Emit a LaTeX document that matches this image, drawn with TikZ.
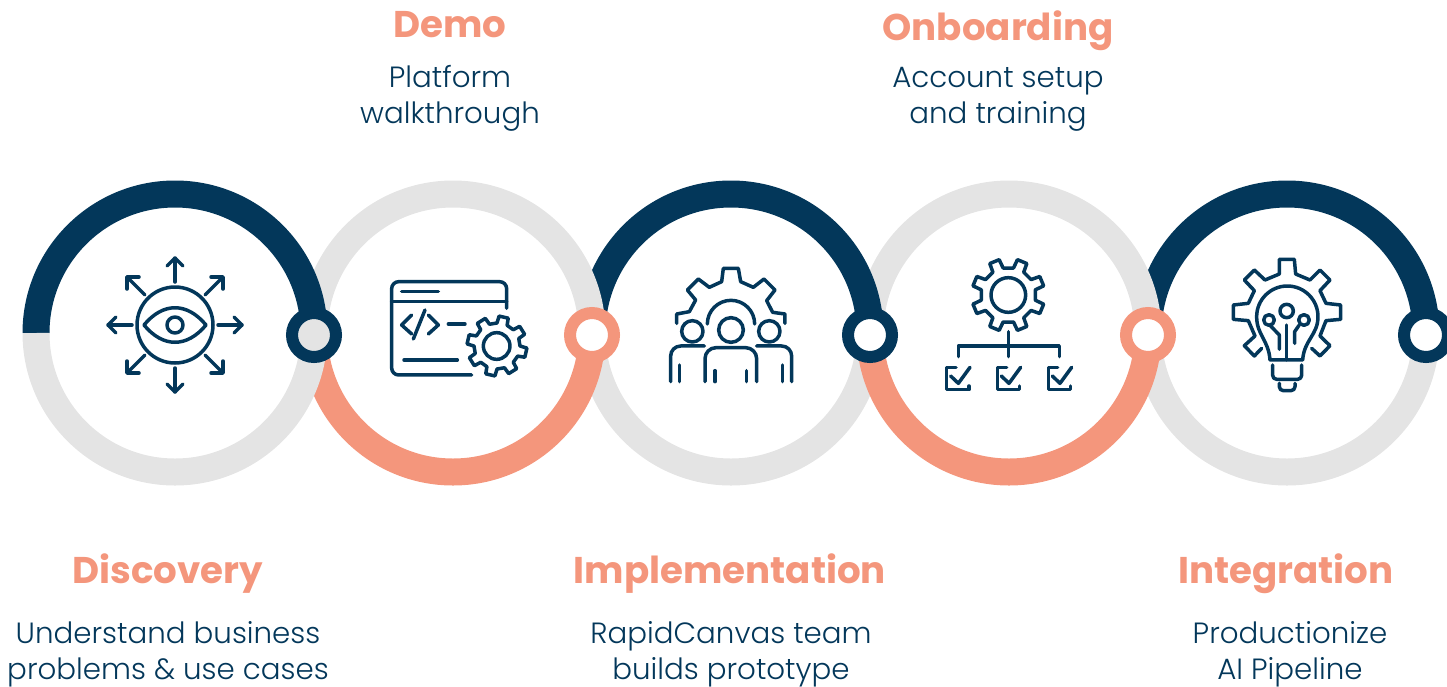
\documentclass[tikz,border=0pt]{standalone}
\usepackage{fontspec}
\setmainfont{Poppins}[UprightFont=* Light,BoldFont=* SemiBold]
\newfontfamily\titlefont{Poppins}[UprightFont=* Bold,BoldFont=* Bold]
\definecolor{navy}{HTML}{03375A}
\definecolor{peach}{HTML}{F4967C}
\definecolor{ringgray}{HTML}{E4E4E4}
\tikzset{
  base ring/.style={draw=ringgray,line width=27pt},
  top arc/.style={draw=navy,line width=27pt},
  low arc/.style={draw=peach,line width=27pt},
  joint/.style={circle,line width=12pt,minimum size=44pt,inner sep=0pt},
  ico/.style={draw=navy,line width=3.5pt,line cap=round,line join=round},
  titletext/.style={font=\titlefont\fontsize{37.2}{42}\selectfont,text=peach,anchor=base},
  bodytext/.style={font=\fontsize{29.3}{36}\selectfont,text=navy,align=center,anchor=center},
}
\newcommand{\gearshape}[7]{%
  \begin{scope}[shift={(#1,#2)}]
    \pgfmathsetmacro{\gstep}{360/#5}
    \pgfmathsetmacro{\gwb}{#7*1.45}
    \draw[ico] (#6-\gwb:#4)
      \foreach \gi in {1,...,#5}{
        \pgfextra{\pgfmathsetmacro{\ga}{#6+(\gi-1)*\gstep}}
        -- (\ga-\gwb:#4) -- (\ga-#7:#3) -- (\ga+#7:#3) -- (\ga+\gwb:#4)
      } -- cycle;
  \end{scope}}
\begin{document}
\begin{tikzpicture}[x=1pt,y=-1pt]
\useasboundingbox (0,0) rectangle (1447,686);
\begin{scope}
\clip (0,0) rectangle (1447,686);
% upper halves, each over its right neighbour
\foreach \cx/\kind in {1287/top arc,1009/base ring,731/top arc,453/base ring,175/top arc}{
  \draw[\kind] (\cx-139,333) arc[start angle=180,end angle=360,radius=139];
}
% lower halves: the peach arcs lie over the gray of circles 3 and 5, under that of circle 1
\foreach \cx/\kind in {1287/base ring,731/base ring,1009/low arc,453/low arc,175/base ring}{
  \draw[\kind] (\cx-139,333) arc[start angle=180,end angle=0,radius=139];
}
% joints
\node[joint,draw=navy,fill=ringgray] (j1) at (314,335) {};
\node[joint,draw=peach,fill=white] (j2) at (592,335) {};
\node[joint,draw=navy,fill=white] (j3) at (870,335) {};
\node[joint,draw=peach,fill=white] (j4) at (1148,335) {};
\node[joint,draw=navy,fill=white] (j5) at (1426,335) {};
\end{scope}
% icon 1
\begin{scope}[shift={(175,325)}]
  \draw[ico] (0,0) circle[radius=38];
  \draw[ico] (0,0) circle[radius=8];
  \draw[ico] (-31,0) .. controls (-12,-23) and (12,-23) .. (31,0) .. controls (12,23) and (-12,23) .. (-31,0) -- cycle;
  \foreach \r in {0,90,180,270}{
    \begin{scope}[rotate=\r]
      \draw[ico] (43,0) -- (67,0);
      \draw[ico] (59,-8) -- (67,0) -- (59,8);
      \draw[ico] (30,-30) -- (48,-48);
      \draw[ico] (36,-48) -- (48,-48) -- (48,-36);
    \end{scope}}
\end{scope}
% icon 2
\begin{scope}[shift={(370,260)},x=0.3333pt,y=-0.3333pt]
  \draw[ico,rounded corners=7pt] (410,145) -- (410,65) -- (65,65) -- (65,345) -- (305,345);
  \draw[ico] (65,125) -- (410,125);
  \draw[ico] (95,95) -- (205,95);
  \draw[ico] (125,165) -- (95,195) -- (125,222);
  \draw[ico] (165,150) -- (130,237);
  \draw[ico] (175,165) -- (205,195) -- (175,222);
  \draw[ico] (235,192) -- (285,192);
  \draw[ico] (102,300) -- (262,300);
  \draw[ico] (380,258) circle[radius=40];
\end{scope}
\gearshape{497}{346}{30}{23}{8}{-77}{9}
% icon 3
\begin{scope}[shift={(650,250)},x=0.3333pt,y=-0.3333pt]
  \draw[ico] (80,220) -- (80,192) -- (118,185) -- (137,150) -- (112,120) -- (145,87) -- (178,112) -- (215,95) -- (220,55) -- (265,55) -- (272,95) -- (310,112) -- (342,87) -- (375,120) -- (350,152) -- (368,187) -- (405,192) -- (405,220);
  \draw[ico] (172,222) arc[start angle=180,end angle=360,radius=71];
  \draw[ico] (127,244) circle[radius=32];
  \draw[ico] (243,240) circle[radius=37];
  \draw[ico] (358,244) circle[radius=32];
  \draw[ico,rounded corners=10pt] (62,395) -- (62,288) -- (163,288);
  \draw[ico,rounded corners=10pt] (320,288) -- (425,288) -- (425,395);
  \draw[ico,rounded corners=11pt] (165,395) -- (165,293) -- (320,293) -- (320,395);
  \draw[ico] (88,345) -- (88,395);
  \draw[ico] (398,345) -- (398,395);
  \draw[ico] (195,362) -- (195,395);
  \draw[ico] (290,362) -- (290,395);
\end{scope}
% icon 4
\gearshape{1008.3}{295}{36.5}{27.5}{8}{22.5}{8}
\begin{scope}[shift={(930,250)},x=0.3333pt,y=-0.3333pt]
  \draw[ico] (235,135) circle[radius=52];
  \draw[ico] (235,245) -- (235,320);
  \draw[ico] (85,320) -- (85,288) -- (388,288) -- (388,320);
  \foreach \dx in {0,152,305}{
    \begin{scope}[xshift=\dx*0.3333pt]
      \draw[ico] (78,352) -- (50,352) -- (50,419) -- (117,419) -- (117,408);
      \draw[ico] (62,378) -- (85,400) -- (120,352);
    \end{scope}}
\end{scope}
% icon 5
\begin{scope}[shift={(1120,250)},x=0.3333pt,y=-0.3333pt]
  \draw[ico] (425,295) -- (403,318) -- (373,287) -- (405,258) -- (385,212) -- (340,208) -- (340,165) -- (385,160) -- (403,122) -- (373,90) -- (403,60) -- (435,90) -- (478,72) -- (478,28) -- (523,28) -- (527,72) -- (570,90) -- (600,60) -- (630,90) -- (600,122) -- (618,160) -- (662,165) -- (662,208) -- (618,212) -- (600,258) -- (630,287) -- (600,318) -- (575,295);
  \draw[ico] (450,330) -- (548,330) .. controls (552,270) and (594,255) .. (594,200) arc[start angle=0,end angle=-180,radius=92] .. controls (410,255) and (446,270) .. (450,330) -- cycle;
  \draw[ico,rounded corners=4pt] (458,345) -- (458,388) -- (545,388) -- (545,345);
  \draw[ico,rounded corners=4pt] (478,400) -- (478,422) -- (525,422) -- (525,400);
  \draw[ico] (500,183) circle[radius=20];
  \draw[ico] (447,210) circle[radius=16];
  \draw[ico] (552,210) circle[radius=16];
  \draw[ico] (452,228) -- (478,255) -- (478,298);
  \draw[ico] (500,225) -- (500,330);
  \draw[ico] (537,226) -- (524,245) -- (524,280);
\end{scope}
% texts
\node[titletext] (t1) at (168,583) {Discovery};
\node[titletext] (t2) at (450,37) {Demo};
\node[titletext] (t3) at (730,583) {Implementation};
\node[titletext] (t4) at (998,40) {Onboarding};
\node[titletext] (t5) at (1286,583) {Integration};
\node[bodytext] (b1) at (168,654) {Understand business\\problems \& use cases};
\node[bodytext] (b2) at (450,98) {Platform\\walkthrough};
\node[bodytext] (b3) at (731,654) {RapidCanvas team\\builds prototype};
\node[bodytext] (b4) at (998,99.5) {Account setup\\and training};
\node[bodytext] (b5) at (1290,654) {Productionize\\AI Pipeline};
\end{tikzpicture}
\end{document}
